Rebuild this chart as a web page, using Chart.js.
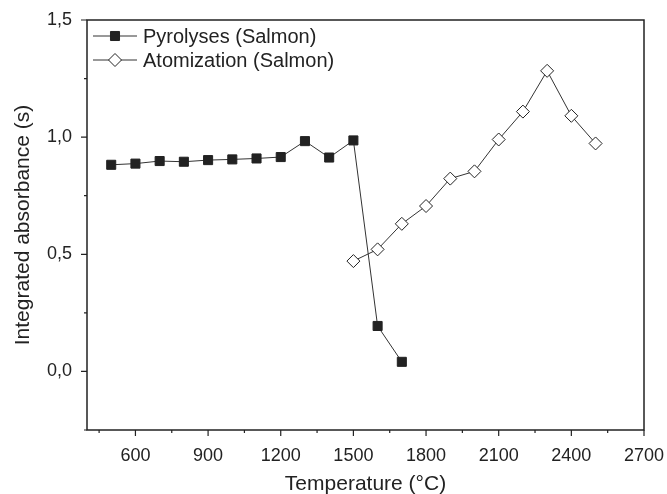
<!DOCTYPE html>
<html>
<head>
<meta charset="utf-8">
<script src="https://cdn.jsdelivr.net/npm/chart.js@4.4.1/dist/chart.umd.min.js"></script>
<style>
  html, body { margin: 0; padding: 0; background: #fff; }
  #wrap { width: 667px; height: 494px; }
</style>
</head>
<body>
<div id="wrap"><canvas id="chart" width="667" height="494"></canvas></div>
<script>
// data
const pyroTemps = [500, 600, 700, 800, 900, 1000, 1100, 1200, 1300, 1400, 1500, 1600, 1700];
const pyroValues = [0.882, 0.887, 0.898, 0.895, 0.902, 0.905, 0.909, 0.915, 0.983, 0.913, 0.986, 0.194, 0.041];
const atomTemps = [1500, 1600, 1700, 1800, 1900, 2000, 2100, 2200, 2300, 2400, 2500];
const atomValues = [0.471, 0.521, 0.630, 0.706, 0.823, 0.854, 0.990, 1.109, 1.283, 1.091, 0.973];
const xTicks = [600, 900, 1200, 1500, 1800, 2100, 2400, 2700];
const yTicks = [0, 0.5, 1.0, 1.5];

const ink = '#222';
const font = 'Arial, "Liberation Sans", Helvetica, sans-serif';

function toPoints(xs, ys) {
    return xs.map((x, i) => ({ x: x, y: ys[i] }));
}

function drawMarker(ctx, style, r, x, y) {
    if (style === 'rect') {
        const s = Math.SQRT1_2 * r;
        ctx.rect(x - s, y - s, 2 * s, 2 * s);
    } else {
        ctx.moveTo(x - r, y);
        ctx.lineTo(x, y - r);
        ctx.lineTo(x + r, y);
        ctx.lineTo(x, y + r);
        ctx.closePath();
    }
}

// frame, outward ticks (major + minor) and the legend box
const framePlugin = {
    id: 'frame',
    afterDraw(chart) {
        const ctx = chart.ctx;
        const a = chart.chartArea;
        const xs = chart.scales.x;
        const ys = chart.scales.y;
        ctx.save();
        ctx.strokeStyle = ink;
        ctx.lineWidth = 1.5;
        ctx.strokeRect(a.left, a.top, a.right - a.left, a.bottom - a.top);

        ctx.lineWidth = 1.2;
        ctx.beginPath();
        const xStep = xTicks[1] - xTicks[0];
        for (let v = xTicks[0] - xStep; v <= xs.max + 1; v += xStep / 2) {
            if (v < xs.min) continue;
            const px = xs.getPixelForValue(v);
            const major = xTicks.includes(v);
            ctx.moveTo(px, a.bottom);
            ctx.lineTo(px, a.bottom + (major ? 6 : 3));
        }
        const yStep = yTicks[1] - yTicks[0];
        for (let v = yTicks[0] - yStep; v <= ys.max + 0.001; v += yStep / 2) {
            if (v < ys.min - 0.001) continue;
            const py = ys.getPixelForValue(v);
            const major = yTicks.some(t => Math.abs(t - v) < 1e-6);
            ctx.moveTo(a.left, py);
            ctx.lineTo(a.left - (major ? 6 : 3), py);
        }
        ctx.stroke();

        // legend
        ctx.font = '20px ' + font;
        ctx.textBaseline = 'middle';
        chart.data.datasets.forEach((ds, i) => {
            const y = 36 + i * 24;
            ctx.strokeStyle = ds.borderColor;
            ctx.lineWidth = 1;
            ctx.beginPath();
            ctx.moveTo(93, y);
            ctx.lineTo(137, y);
            ctx.stroke();
            ctx.fillStyle = ds.pointBackgroundColor;
            ctx.strokeStyle = ds.pointBorderColor;
            ctx.lineWidth = ds.pointBorderWidth;
            ctx.beginPath();
            drawMarker(ctx, ds.pointStyle, ds.pointRadius, 115, y);
            ctx.fill();
            ctx.stroke();
            ctx.fillStyle = ink;
            ctx.fillText(ds.label, 143, y + 1);
        });
        ctx.restore();
    }
};

new Chart(document.getElementById('chart'), {
    type: 'line',
    data: {
        datasets: [
            {
                label: 'Pyrolyses (Salmon)',
                data: toPoints(pyroTemps, pyroValues),
                borderColor: '#333',
                borderWidth: 1,
                pointStyle: 'rect',
                pointRadius: 6.4,
                pointBackgroundColor: ink,
                pointBorderColor: ink,
                pointBorderWidth: 1,
                tension: 0
            },
            {
                label: 'Atomization (Salmon)',
                data: toPoints(atomTemps, atomValues),
                borderColor: '#333',
                borderWidth: 1,
                pointStyle: 'rectRot',
                pointRadius: 6.5,
                pointBackgroundColor: '#fff',
                pointBorderColor: ink,
                pointBorderWidth: 1,
                tension: 0
            }
        ]
    },
    options: {
        responsive: false,
        animation: false,
        events: [],
        layout: { padding: { top: 20, right: 23, left: 0, bottom: 0 } },
        plugins: { legend: { display: false }, tooltip: { enabled: false } },
        scales: {
            x: {
                type: 'linear',
                min: 400,
                max: 2700,
                grid: { display: false },
                border: { display: false },
                afterBuildTicks: (scale) => { scale.ticks = xTicks.map(v => ({ value: v })); },
                afterFit: (scale) => {
                    scale.height = 64;
                    scale.paddingLeft = 0;
                    scale.paddingRight = 0;
                },
                ticks: {
                    color: ink,
                    font: { family: font, size: 18 },
                    padding: 7,
                    maxRotation: 0,
                    autoSkip: false,
                    callback: (v) => String(v)
                },
                title: {
                    display: true,
                    text: 'Temperature (°C)',
                    color: ink,
                    font: { family: font, size: 21 },
                    padding: { top: 2, bottom: -3 }
                }
            },
            y: {
                type: 'linear',
                min: -0.25,
                max: 1.5,
                grid: { display: false },
                border: { display: false },
                afterBuildTicks: (scale) => { scale.ticks = yTicks.map(v => ({ value: v })); },
                afterFit: (scale) => {
                    scale.width = 87;
                    scale.paddingTop = 0;
                    scale.paddingBottom = 0;
                },
                ticks: {
                    color: ink,
                    font: { family: font, size: 18 },
                    padding: 7,
                    autoSkip: false,
                    callback: (v) => v.toFixed(1).replace('.', ',')
                },
                title: {
                    display: true,
                    text: 'Integrated absorbance (s)',
                    color: ink,
                    font: { family: font, size: 21 },
                    padding: { top: 11, bottom: 4 }
                }
            }
        }
    },
    plugins: [framePlugin]
});
</script>
</body>
</html>
